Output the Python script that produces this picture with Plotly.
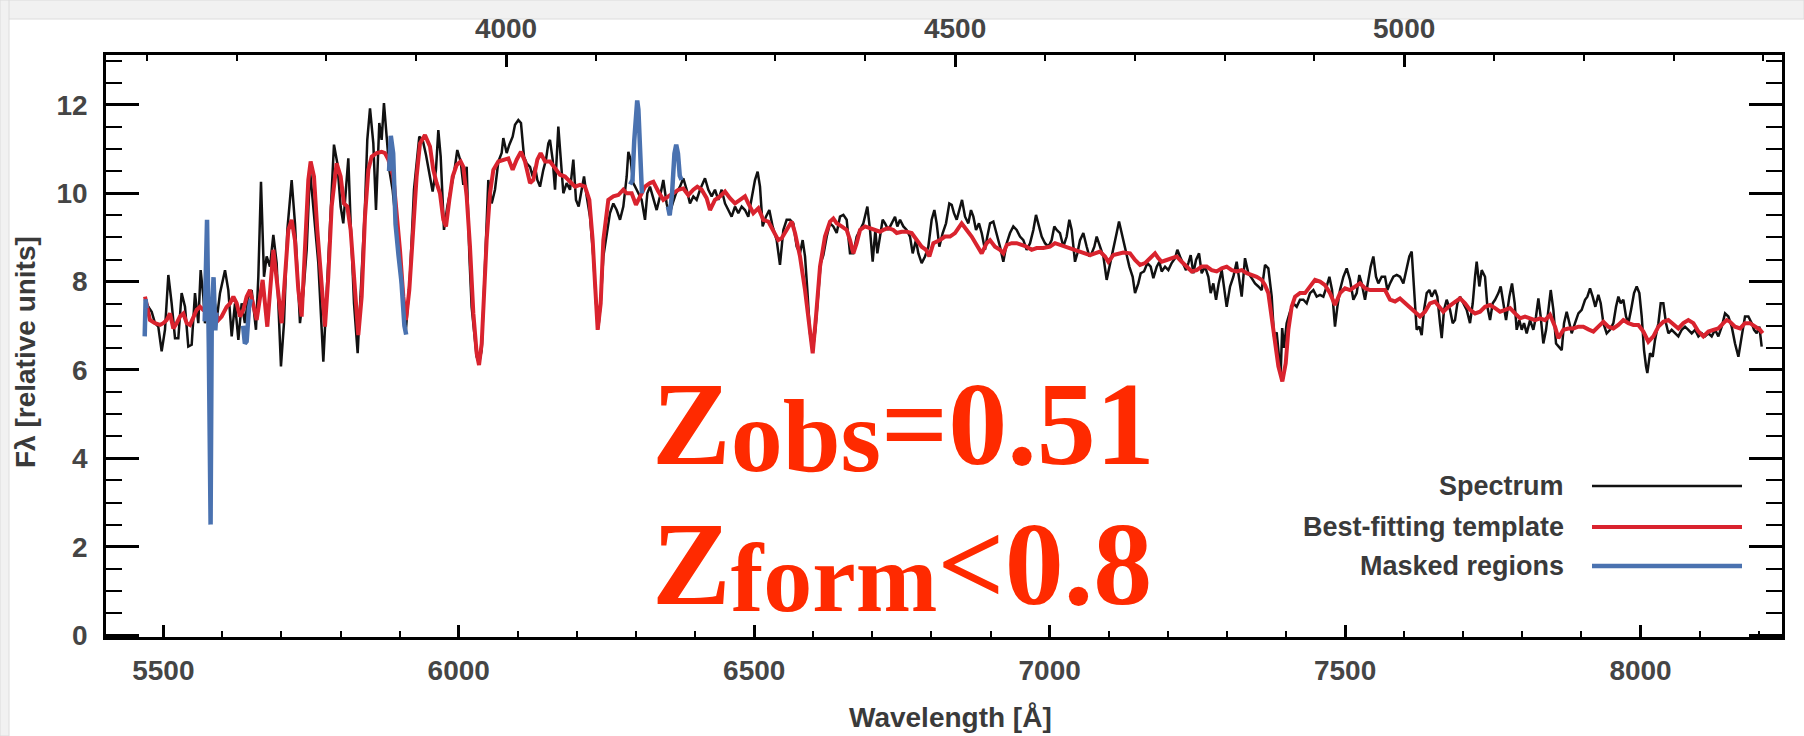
import plotly.graph_objects as go

# ---------------- data ----------------
spec_wave = [5470.5, 5474.6, 5480.3, 5485.9, 5491.5, 5497.2, 5502.8, 5508.5, 5514.1, 5519.8, 5525.4, 5531.0, 5536.7,
             5542.3, 5548.0, 5553.6, 5559.2, 5563.2, 5567.7, 5570.5, 5574.5, 5581.8, 5587.4, 5590.3, 5595.9, 5604.4,
             5610.0, 5615.7, 5621.3, 5627.0, 5632.6, 5638.0, 5644.0, 5649.5, 5656.8, 5660.8, 5665.3, 5670.4, 5674.9,
             5680.5, 5686.2, 5691.8, 5699.1, 5704.2, 5709.9, 5717.2, 5722.8, 5731.3, 5736.9, 5742.6, 5748.2, 5756.7,
             5762.3, 5770.8, 5776.4, 5782.1, 5788.8, 5794.5, 5800.1, 5804.6, 5809.1, 5813.1, 5817.0, 5822.7, 5828.9,
             5835.7, 5841.3, 5845.2, 5849.8, 5855.4, 5859.9, 5865.5, 5869.5, 5873.4, 5878.0, 5882.5, 5888.0, 5894.9,
             5901.6, 5910.1, 5917.4, 5924.2, 5933.2, 5938.9, 5944.5, 5950.2, 5955.8, 5961.4, 5965.4, 5969.4, 5975.0,
             5980.6, 5986.3, 5991.9, 5997.5, 6003.2, 6007.7, 6013.4, 6017.9, 6021.8, 6030.3, 6034.3, 6038.8, 6044.4,
             6050.0, 6055.7, 6061.3, 6067.0, 6072.6, 6075.4, 6081.1, 6085.6, 6091.2, 6095.2, 6100.8, 6105.3, 6110.4,
             6114.9, 6120.6, 6125.1, 6129.0, 6133.0, 6137.5, 6143.1, 6147.6, 6151.6, 6154.4, 6158.9, 6162.9, 6168.5,
             6172.5, 6177.0, 6182.6, 6188.3, 6193.9, 6198.4, 6202.9, 6208.0, 6212.0, 6216.5, 6222.1, 6227.7, 6232.3,
             6236.2, 6240.2, 6244.7, 6250.3, 6255.9, 6261.6, 6267.2, 6272.9, 6278.5, 6284.2, 6287.0, 6290.9, 6295.4,
             6301.1, 6309.5, 6315.2, 6319.1, 6323.6, 6329.3, 6334.9, 6340.6, 6346.2, 6351.8, 6356.4, 6362.0, 6367.6,
             6374.4, 6380.0, 6385.7, 6391.3, 6397.0, 6402.6, 6408.3, 6416.7, 6422.4, 6428.0, 6433.6, 6439.3, 6444.9,
             6450.6, 6456.2, 6461.8, 6467.5, 6473.1, 6478.8, 6484.4, 6490.0, 6495.7, 6501.3, 6505.8, 6509.8, 6514.3,
             6519.9, 6525.6, 6531.2, 6538.0, 6543.6, 6549.3, 6554.9, 6560.6, 6566.2, 6571.9, 6577.5, 6582.0, 6586.0,
             6589.9, 6594.4, 6599.0, 6603.5, 6608.0, 6612.5, 6617.0, 6622.7, 6628.3, 6633.9, 6639.6, 6645.2, 6650.9,
             6656.5, 6662.1, 6667.8, 6673.4, 6679.1, 6684.7, 6691.5, 6696.0, 6700.5, 6705.0, 6708.4, 6712.9, 6717.4,
             6721.4, 6727.0, 6732.7, 6738.3, 6742.2, 6746.8, 6752.4, 6758.0, 6763.7, 6768.2, 6773.8, 6777.8, 6783.4,
             6789.1, 6794.7, 6800.3, 6804.9, 6808.8, 6813.3, 6819.0, 6824.6, 6830.2, 6834.2, 6838.1, 6842.7, 6847.2,
             6851.7, 6856.8, 6862.4, 6866.9, 6870.9, 6875.4, 6880.4, 6885.0, 6890.6, 6894.5, 6899.1, 6904.7, 6910.3,
             6916.0, 6921.6, 6927.3, 6932.9, 6938.5, 6944.2, 6949.8, 6955.5, 6961.1, 6966.8, 6972.4, 6976.9, 6980.9,
             6986.5, 6992.1, 6997.8, 7003.4, 7007.9, 7011.9, 7017.5, 7023.2, 7028.8, 7033.3, 7037.3, 7042.9, 7046.9,
             7051.4, 7057.0, 7062.7, 7067.2, 7071.1, 7075.6, 7079.6, 7085.2, 7090.9, 7096.5, 7102.1, 7107.8, 7113.4,
             7117.4, 7121.9, 7127.5, 7134.9, 7140.5, 7144.5, 7150.1, 7154.1, 7159.7, 7165.4, 7171.0, 7175.5, 7181.2,
             7185.7, 7189.6, 7195.3, 7200.9, 7206.5, 7212.2, 7216.1, 7220.6, 7225.2, 7230.8, 7234.7, 7238.7, 7243.2,
             7247.7, 7252.8, 7257.3, 7263.0, 7268.6, 7272.5, 7277.0, 7281.6, 7286.1, 7291.2, 7295.1, 7299.6, 7305.3,
             7310.9, 7316.5, 7321.1, 7325.0, 7330.6, 7336.3, 7341.9, 7347.6, 7353.2, 7358.9, 7364.5, 7370.1, 7375.8,
             7379.7, 7384.2, 7388.7, 7391.0, 7393.5, 7396.6, 7401.1, 7406.8, 7412.4, 7418.1, 7423.7, 7429.4, 7435.0,
             7440.6, 7446.3, 7451.9, 7457.6, 7463.2, 7468.8, 7473.4, 7477.9, 7482.9, 7486.9, 7491.4, 7497.1, 7502.7,
             7508.3, 7514.0, 7519.6, 7524.1, 7528.1, 7533.7, 7539.4, 7543.3, 7547.8, 7552.3, 7556.3, 7561.9, 7567.6,
             7571.5, 7576.0, 7581.7, 7587.3, 7593.0, 7598.6, 7604.2, 7608.7, 7612.7, 7616.6, 7621.1, 7625.7, 7629.6,
             7633.6, 7638.1, 7642.6, 7646.5, 7652.2, 7656.1, 7660.6, 7663.5, 7667.4, 7671.9, 7677.6, 7682.1, 7686.0,
             7690.0, 7694.5, 7700.2, 7705.8, 7711.4, 7716.0, 7719.9, 7722.7, 7727.2, 7731.2, 7736.8, 7740.8, 7745.3,
             7749.8, 7753.8, 7759.4, 7763.3, 7767.9, 7772.4, 7778.0, 7782.5, 7787.0, 7790.4, 7794.9, 7798.9, 7802.8,
             7807.3, 7813.0, 7818.6, 7823.1, 7827.1, 7831.0, 7835.5, 7840.1, 7844.0, 7848.0, 7852.5, 7857.0, 7861.5,
             7866.6, 7870.5, 7875.0, 7879.6, 7883.5, 7889.1, 7894.8, 7900.4, 7906.1, 7910.0, 7914.5, 7919.0, 7923.5,
             7928.6, 7932.6, 7937.1, 7942.7, 7948.4, 7954.0, 7958.5, 7962.5, 7966.4, 7970.9, 7975.4, 7979.4, 7983.9,
             7989.0, 7993.5, 7998.0, 8002.0, 8005.9, 8009.3, 8011.5, 8016.1, 8020.6, 8024.5, 8030.2, 8034.1, 8038.6,
             8043.1, 8047.1, 8052.7, 8058.4, 8064.0, 8069.7, 8075.3, 8080.9, 8086.6, 8092.2, 8097.9, 8103.5, 8109.1,
             8114.8, 8120.4, 8126.1, 8131.7, 8137.4, 8143.0, 8148.6, 8154.3, 8159.9, 8165.6, 8171.2, 8176.8, 8182.5,
             8188.1, 8192.1, 8196.6, 8201.1, 8205.0]
spec_flux = [7.55, 7.43, 7.32, 7.06, 6.98, 6.42, 6.91, 8.15, 7.51, 6.72, 6.72, 7.74, 7.43,
             6.53, 6.57, 7.74, 7.06, 8.26, 7.66, 7.06, 7.30, 7.00, 7.50, 7.13, 7.74, 8.26,
             7.81, 6.76, 7.51, 6.68, 7.51, 7.06, 7.66, 7.81, 6.91, 8.11, 10.26, 8.11, 8.57,
             8.34, 9.06, 8.42, 6.08, 7.06, 9.17, 10.30, 9.32, 7.06, 7.74, 8.72, 10.53, 9.17,
             8.42, 6.19, 7.81, 9.17, 11.10, 10.68, 9.70, 9.32, 10.08, 10.79, 9.32, 7.51, 6.38,
             8.11, 9.70, 11.21, 11.92, 11.13, 9.62, 11.59, 11.21, 12.04, 11.28, 10.53, 10.08, 9.17,
             8.11, 6.83, 8.11, 10.08, 11.28, 11.21, 10.87, 10.45, 10.04, 10.53, 11.43, 10.83, 9.17,
             9.70, 10.08, 10.45, 10.98, 10.72, 10.19, 10.60, 8.60, 7.43, 6.30, 6.15, 6.45, 8.19,
             10.30, 9.77, 10.08, 10.72, 10.91, 11.25, 10.91, 11.10, 11.28, 11.55, 11.66, 11.59, 10.83,
             10.68, 10.60, 10.38, 10.60, 10.30, 10.15, 10.53, 10.76, 11.13, 11.21, 10.76, 10.08, 11.51,
             10.83, 10.00, 10.23, 10.08, 10.76, 9.85, 9.70, 10.08, 10.38, 9.93, 9.47, 8.57, 7.51,
             6.94, 7.51, 8.57, 9.10, 9.55, 9.77, 9.62, 9.40, 9.70, 10.38, 10.94, 10.76, 10.23,
             10.08, 9.85, 9.40, 10.00, 10.15, 9.85, 9.62, 9.93, 10.30, 9.77, 9.51, 9.77, 10.00,
             10.15, 10.34, 10.08, 9.77, 9.93, 9.85, 10.08, 10.34, 10.08, 9.93, 10.08, 9.85, 10.08,
             9.77, 9.62, 9.47, 9.70, 9.55, 9.70, 9.62, 9.47, 9.93, 10.30, 10.49, 10.15, 9.25,
             9.47, 9.62, 9.25, 8.94, 8.38, 9.17, 9.40, 9.40, 9.32, 8.79, 8.64, 8.94, 8.57,
             7.81, 6.83, 6.42, 6.91, 7.66, 8.42, 8.60, 9.02, 9.32, 9.25, 9.10, 9.47, 9.51,
             9.40, 8.64, 8.64, 9.02, 9.17, 9.32, 9.70, 9.17, 8.45, 9.17, 8.64, 9.02, 9.40,
             9.32, 9.17, 9.32, 9.47, 9.25, 9.40, 9.25, 9.17, 9.02, 8.64, 8.94, 8.64, 8.42,
             8.57, 8.79, 9.40, 9.62, 9.32, 8.79, 9.10, 9.32, 9.77, 9.74, 9.55, 9.40, 9.62,
             9.85, 9.47, 9.32, 9.62, 9.47, 9.17, 9.32, 9.10, 8.72, 9.02, 9.32, 9.36, 9.10,
             8.79, 8.45, 8.87, 9.10, 9.25, 9.17, 9.02, 8.94, 8.72, 8.87, 9.17, 9.51, 9.32,
             9.02, 8.87, 8.79, 8.94, 9.25, 9.17, 9.10, 8.79, 9.02, 9.40, 9.17, 8.45, 8.64,
             8.94, 9.10, 8.79, 8.57, 8.64, 8.79, 9.02, 8.79, 8.57, 8.04, 8.42, 8.79, 9.10,
             9.36, 9.10, 8.72, 8.34, 8.11, 7.74, 7.96, 8.19, 8.23, 8.42, 8.34, 8.08, 8.34,
             8.45, 8.23, 8.34, 8.26, 8.42, 8.53, 8.72, 8.57, 8.42, 8.26, 8.42, 8.60, 8.19,
             8.49, 8.64, 8.19, 8.34, 8.11, 7.74, 7.96, 7.59, 7.96, 8.26, 7.81, 7.43, 7.89,
             8.11, 8.45, 8.04, 7.66, 8.53, 8.19, 8.08, 7.96, 7.89, 7.81, 8.38, 8.30, 7.66,
             6.76, 6.85, 6.20, 5.90, 6.95, 6.50, 7.06, 7.32, 7.51, 7.43, 7.59, 7.59, 7.51,
             7.74, 7.81, 7.66, 7.70, 7.66, 7.89, 8.11, 7.81, 6.98, 7.43, 7.81, 8.11, 8.30,
             8.04, 7.59, 7.74, 8.15, 7.96, 7.59, 8.04, 8.34, 8.57, 8.11, 7.96, 8.11, 8.11,
             7.81, 7.96, 8.11, 8.15, 8.11, 7.96, 8.26, 8.57, 8.68, 7.81, 6.91, 6.98, 6.79,
             7.36, 7.74, 7.81, 7.66, 7.81, 7.66, 7.06, 6.72, 7.36, 7.59, 7.36, 7.06, 7.13,
             7.51, 7.66, 7.51, 7.36, 7.06, 7.51, 8.11, 8.45, 7.89, 8.26, 8.11, 7.43, 7.13,
             7.51, 7.59, 7.74, 7.89, 7.51, 7.13, 7.66, 7.96, 7.51, 6.91, 7.13, 6.91, 7.06,
             6.83, 7.13, 6.91, 7.21, 7.62, 7.21, 6.60, 6.91, 7.43, 7.81, 7.36, 6.60, 6.53,
             6.45, 7.06, 7.32, 7.06, 6.83, 7.06, 7.28, 7.36, 7.59, 7.66, 7.85, 7.66, 7.43,
             7.70, 7.51, 7.06, 6.83, 6.91, 7.06, 7.43, 7.66, 7.51, 7.59, 7.21, 7.06, 7.36,
             7.74, 7.89, 7.74, 7.21, 6.45, 6.08, 5.93, 6.38, 6.30, 6.68, 7.06, 7.51, 7.51,
             7.06, 6.83, 6.91, 6.83, 6.76, 6.91, 6.98, 6.91, 6.83, 6.91, 6.76, 6.83, 6.76,
             6.83, 6.76, 6.91, 6.76, 6.98, 7.28, 7.21, 6.98, 6.60, 6.30, 6.76, 7.21, 7.21,
             7.06, 6.91, 6.83, 6.98, 6.53]

tmpl_wave = [5469.0, 5477.4, 5485.9, 5494.4, 5500.0, 5505.7, 5511.3, 5517.0, 5522.6, 5528.2, 5533.9, 5539.5, 5545.1,
             5550.8, 5556.4, 5562.1, 5567.7, 5573.3, 5581.8, 5587.4, 5593.1, 5598.7, 5607.2, 5612.9, 5618.5, 5624.1,
             5629.8, 5635.4, 5641.0, 5646.7, 5652.3, 5658.0, 5668.1, 5676.0, 5686.2, 5691.8, 5700.3, 5711.6, 5717.2,
             5722.8, 5728.5, 5734.1, 5739.8, 5745.4, 5749.3, 5755.0, 5760.6, 5766.3, 5773.6, 5779.2, 5784.9, 5793.3,
             5800.1, 5805.7, 5811.4, 5817.0, 5824.4, 5830.0, 5835.7, 5841.3, 5847.0, 5852.6, 5861.0, 5869.5, 5875.1,
             5880.8, 5889.2, 5894.9, 5900.5, 5906.2, 5910.7, 5916.3, 5922.0, 5928.7, 5934.4, 5942.8, 5951.3, 5956.9,
             5962.6, 5968.2, 5973.9, 5978.4, 5984.0, 5989.7, 5996.4, 6003.2, 6007.7, 6013.4, 6019.0, 6024.7, 6030.3,
             6034.3, 6038.8, 6042.7, 6047.2, 6052.9, 6058.5, 6067.0, 6075.4, 6083.9, 6091.2, 6098.0, 6105.3, 6112.1,
             6120.6, 6126.2, 6133.0, 6138.6, 6146.0, 6154.4, 6162.9, 6171.3, 6179.8, 6188.3, 6196.7, 6205.2, 6213.6,
             6221.0, 6226.6, 6230.6, 6235.1, 6240.2, 6244.7, 6253.1, 6261.6, 6270.0, 6278.5, 6284.2, 6292.6, 6299.9,
             6306.7, 6315.2, 6323.6, 6329.3, 6337.7, 6346.2, 6354.7, 6363.1, 6371.6, 6380.0, 6388.5, 6397.0, 6403.7,
             6411.1, 6419.5, 6425.2, 6433.6, 6442.1, 6450.6, 6459.0, 6467.5, 6475.9, 6484.4, 6490.0, 6498.5, 6507.0,
             6515.4, 6523.9, 6532.3, 6540.8, 6546.5, 6554.9, 6563.4, 6569.1, 6577.5, 6586.0, 6593.3, 6599.0, 6604.6,
             6611.4, 6619.8, 6628.3, 6633.9, 6639.6, 6648.0, 6656.5, 6662.1, 6667.8, 6673.4, 6679.1, 6687.5, 6696.0,
             6704.4, 6712.9, 6718.5, 6727.0, 6735.5, 6741.1, 6749.6, 6758.0, 6766.5, 6775.0, 6783.4, 6790.8, 6796.4,
             6803.2, 6814.4, 6822.9, 6831.4, 6839.8, 6845.5, 6851.1, 6859.6, 6868.0, 6876.5, 6885.0, 6893.4, 6899.1,
             6907.5, 6916.0, 6921.6, 6927.3, 6935.7, 6944.2, 6952.6, 6961.1, 6969.6, 6978.0, 6989.3, 7000.6, 7009.1,
             7017.5, 7026.0, 7034.4, 7042.9, 7051.4, 7059.8, 7068.3, 7076.7, 7085.2, 7093.7, 7099.3, 7107.8, 7116.2,
             7124.7, 7136.0, 7144.5, 7153.0, 7161.4, 7169.9, 7178.3, 7184.0, 7189.6, 7198.1, 7206.5, 7215.0, 7223.5,
             7231.9, 7240.4, 7248.8, 7257.3, 7265.8, 7274.2, 7282.7, 7291.2, 7299.6, 7308.1, 7316.5, 7325.0, 7333.5,
             7341.9, 7350.4, 7358.9, 7364.5, 7370.1, 7375.8, 7381.4, 7387.1, 7393.8, 7399.5, 7404.0, 7409.6, 7415.3,
             7423.7, 7432.2, 7440.6, 7449.1, 7457.6, 7466.0, 7474.5, 7482.9, 7491.4, 7499.9, 7508.3, 7516.8, 7525.3,
             7533.7, 7542.2, 7550.6, 7559.1, 7567.6, 7576.0, 7584.5, 7592.9, 7601.4, 7609.9, 7618.3, 7626.8, 7635.2,
             7643.7, 7652.2, 7660.6, 7666.3, 7674.7, 7683.2, 7694.5, 7703.0, 7711.4, 7719.9, 7728.4, 7736.8, 7745.3,
             7753.8, 7762.2, 7770.7, 7779.1, 7787.6, 7796.1, 7804.5, 7813.0, 7821.4, 7829.9, 7838.4, 7846.8, 7855.3,
             7860.9, 7869.4, 7877.9, 7886.3, 7894.8, 7903.2, 7911.7, 7920.2, 7928.6, 7937.1, 7945.5, 7954.0, 7962.5,
             7970.9, 7979.4, 7987.9, 7996.3, 8004.8, 8013.2, 8021.7, 8030.2, 8038.6, 8047.1, 8055.6, 8064.0, 8072.5,
             8080.9, 8089.4, 8097.9, 8106.3, 8114.8, 8123.2, 8131.7, 8140.2, 8145.8, 8151.4, 8159.9, 8168.4, 8176.8,
             8185.3, 8193.7, 8202.2, 8206.7]
tmpl_flux = [7.66, 7.13, 7.06, 7.02, 7.06, 7.13, 7.28, 6.94, 7.06, 7.21, 7.28, 7.06, 7.02,
             7.21, 7.36, 7.43, 7.36, 7.36, 7.43, 7.32, 7.13, 7.21, 7.43, 7.51, 7.66, 7.51,
             7.21, 7.36, 7.66, 7.81, 7.51, 7.13, 8.04, 6.98, 8.72, 8.11, 7.06, 9.17, 9.40,
             8.94, 7.81, 7.21, 8.57, 10.30, 10.72, 10.38, 9.17, 8.11, 6.98, 8.11, 9.70, 10.68,
             10.38, 9.77, 9.70, 9.17, 7.66, 6.79, 7.66, 9.47, 10.53, 10.83, 10.91, 10.94, 10.91,
             10.76, 10.38, 9.62, 8.72, 7.66, 7.13, 7.81, 9.17, 10.38, 11.13, 11.32, 11.06, 10.53,
             10.23, 10.00, 9.40, 9.25, 9.85, 10.38, 10.64, 10.72, 10.60, 9.93, 8.79, 7.28, 6.38,
             6.11, 6.60, 7.81, 8.94, 10.00, 10.53, 10.72, 10.76, 10.79, 10.53, 10.76, 10.94, 10.72,
             10.23, 10.30, 10.76, 10.91, 10.72, 10.72, 10.57, 10.42, 10.38, 10.26, 10.15, 10.19, 10.15,
             9.85, 8.94, 7.96, 6.91, 7.51, 8.94, 9.85, 9.93, 9.96, 10.08, 10.00, 10.00, 9.74,
             9.93, 10.15, 10.23, 10.26, 10.04, 9.85, 9.93, 10.00, 10.08, 10.11, 9.96, 10.08, 10.15,
             10.08, 9.89, 9.62, 9.85, 9.93, 10.04, 9.89, 9.77, 9.85, 9.93, 9.77, 9.55, 9.66,
             9.40, 9.36, 9.17, 8.94, 8.98, 9.17, 9.36, 9.10, 8.57, 7.81, 6.91, 6.38, 7.21,
             8.34, 9.02, 9.36, 9.43, 9.32, 9.25, 9.17, 8.94, 8.64, 8.87, 9.17, 9.25, 9.21,
             9.17, 9.13, 9.17, 9.21, 9.17, 9.10, 9.13, 9.13, 9.10, 8.94, 8.79, 8.72, 8.57,
             8.87, 8.94, 9.02, 9.02, 9.10, 9.21, 9.32, 9.17, 9.02, 8.83, 8.64, 8.87, 8.94,
             8.79, 8.72, 8.64, 8.83, 8.87, 8.87, 8.83, 8.79, 8.72, 8.76, 8.76, 8.79, 8.87,
             8.83, 8.79, 8.76, 8.72, 8.68, 8.64, 8.60, 8.64, 8.68, 8.57, 8.45, 8.60, 8.64,
             8.66, 8.64, 8.49, 8.38, 8.42, 8.53, 8.64, 8.53, 8.45, 8.49, 8.53, 8.57, 8.45,
             8.34, 8.23, 8.26, 8.34, 8.34, 8.26, 8.23, 8.30, 8.34, 8.26, 8.23, 8.26, 8.19,
             8.15, 8.11, 8.04, 7.92, 7.74, 7.21, 6.60, 6.08, 5.74, 6.15, 6.91, 7.43, 7.66,
             7.74, 7.74, 7.89, 8.04, 8.00, 7.92, 7.74, 7.47, 7.74, 7.85, 7.81, 7.89, 7.96,
             7.85, 7.81, 7.81, 7.81, 7.81, 7.59, 7.55, 7.62, 7.51, 7.40, 7.32, 7.21, 7.32,
             7.51, 7.55, 7.40, 7.32, 7.43, 7.51, 7.62, 7.51, 7.36, 7.28, 7.32, 7.43, 7.47,
             7.40, 7.32, 7.36, 7.40, 7.28, 7.17, 7.21, 7.17, 7.13, 7.17, 7.13, 7.25, 6.98,
             6.72, 6.91, 6.94, 6.94, 6.98, 6.98, 6.92, 6.87, 6.98, 7.09, 6.98, 6.94, 7.02,
             7.13, 7.06, 7.02, 7.02, 6.87, 6.64, 6.76, 6.98, 7.09, 7.13, 7.02, 6.94, 7.06,
             7.13, 7.06, 6.87, 6.76, 6.87, 6.91, 6.94, 7.06, 7.13, 7.09, 6.98, 6.94, 7.06,
             7.06, 6.98, 6.91, 6.83]

mask_wave = [5468.5, 5470.0, 5471.5, None,
             5570, 5574, 5577, 5580, 5582, 5585, 5588, 5590, None,
             5635, 5638, 5641, 5645, 5648, None,
             5882, 5885, 5889, 5893, 5898, 5903, 5908, 5911, None,
             6290, 6294, 6297, 6300, 6302, 6304, 6307, 6310, None,
             6354, 6357, 6361, 6365, 6368, 6371, 6374, 6377]
mask_flux = [6.76, 7.6, 7.4, None,
             7.1, 9.4, 6.5, 2.5, 7.2, 8.1, 6.9, 7.3, None,
             7.0, 6.6, 6.65, 7.4, 7.6, None,
             10.5, 11.3, 10.9, 9.3, 8.6, 8.0, 7.0, 6.8, None,
             10.2, 10.3, 11.2, 12.0, 12.1, 11.9, 10.8, 10.0, None,
             9.7, 9.5, 10.0, 10.9, 11.1, 10.9, 10.4, 10.3]

bottom_ticks = [5500, 6000, 6500, 7000, 7500, 8000]
top_ticks = [4000, 4500, 5000]
y_ticks = [0, 2, 4, 6, 8, 10, 12]
x_range = [5403, 8239.4]
one_plus_z = 1.52
y_range = [-0.044, 13.13]

legend_names = ["Spectrum", "Best-fitting template", "Masked regions"]
legend_colors = ["#111111", "#d9232e", "#4a72b0"]
legend_widths = [2.5, 4, 4.5]

# ---------------- figure ----------------
W, H = 1804, 736
ML, MR, MT, MB = 106, 22, 55, 99
PW, PH = W - ML - MR, H - MT - MB

def px_x(px):
    return (px - ML) / PW

def px_y(py):
    return (H - MB - py) / PH

FONT = "Liberation Sans, Arial, Helvetica, sans-serif"
tick_font = dict(family=FONT, size=28, color="#454545", weight="bold")

fig = go.Figure()
fig.add_trace(go.Scatter(x=spec_wave, y=spec_flux, mode="lines",
                         line=dict(color=legend_colors[0], width=legend_widths[0]),
                         hoverinfo="skip", showlegend=False))
fig.add_trace(go.Scatter(x=tmpl_wave, y=tmpl_flux, mode="lines",
                         line=dict(color=legend_colors[1], width=legend_widths[1]),
                         hoverinfo="skip", showlegend=False))
fig.add_trace(go.Scatter(x=mask_wave, y=mask_flux, mode="lines", connectgaps=False,
                         line=dict(color=legend_colors[2], width=legend_widths[2]),
                         hoverinfo="skip", showlegend=False))
# invisible trace to activate the top (rest-frame) axis
fig.add_trace(go.Scatter(x=[x_range[0] / one_plus_z], y=[None], xaxis="x2", yaxis="y",
                         mode="lines", showlegend=False, hoverinfo="skip"))

axis_common = dict(showline=True, linecolor="black", linewidth=2.5, ticks="inside",
                   tickcolor="black", tickwidth=2.5, showgrid=False, zeroline=False,
                   tickfont=tick_font, automargin=False)

fig.update_layout(
    width=W, height=H,
    margin=dict(l=ML, r=MR, t=MT, b=MB, pad=0, autoexpand=False),
    paper_bgcolor="white", plot_bgcolor="white",
    showlegend=False,
    xaxis=dict(range=x_range, tickvals=bottom_ticks, ticklen=12,
               minor=dict(dtick=100, tick0=5500, ticklen=6, ticks="inside",
                          tickcolor="black", tickwidth=2),
               ticklabelstandoff=7, **axis_common),
    xaxis2=dict(range=[x_range[0] / one_plus_z, x_range[1] / one_plus_z], overlaying="x",
                side="top", anchor="y", tickvals=top_ticks, ticklen=12,
                minor=dict(dtick=100, tick0=4000, ticklen=6, ticks="inside",
                           tickcolor="black", tickwidth=2),
                ticklabelstandoff=3, **axis_common),
    yaxis=dict(range=y_range, tickvals=y_ticks, ticklen=33, mirror="ticks",
               minor=dict(dtick=0.5, tick0=0, ticklen=16, ticks="inside",
                          tickcolor="black", tickwidth=2),
               ticklabelstandoff=10, **axis_common),
)

annots = []
# axis titles
annots.append(dict(text="Wavelength [Å]", xref="paper", yref="paper", x=0.5, y=px_y(717),
                   xanchor="center", yanchor="middle", showarrow=False,
                   xshift=6, font=dict(family=FONT, size=28, color="#3a3a3a", weight="bold")))
annots.append(dict(text="Fλ [relative units]", xref="paper", yref="paper", x=px_x(25), y=px_y(352),
                   xanchor="center", yanchor="middle", textangle=-90, showarrow=False,
                   font=dict(family=FONT, size=28, color="#3a3a3a", weight="bold")))
# legend
row_y = [486, 527, 566]
for name, col, lw, ry in zip(legend_names, legend_colors, legend_widths, row_y):
    annots.append(dict(text=name, xref="paper", yref="paper", x=px_x(1566), y=px_y(ry),
                       xanchor="right", yanchor="middle", showarrow=False,
                       font=dict(family=FONT, size=27, color="#3a3a3a", weight="bold")))
# big red labels
RED = "#ff2a00"
SERIF = "Liberation Serif, Times New Roman, serif"
SUB = 'font-size:104px;baseline-shift:-7px'
SUB2 = 'font-size:98px;baseline-shift:-7px'
annots.append(dict(text='Z<span style="%s">obs</span>=0.51' % SUB, xref="paper", yref="paper",
                   x=px_x(650), y=px_y(426), xanchor="left", yanchor="middle", showarrow=False,
                   font=dict(family=SERIF, size=118, color=RED, weight="bold")))
annots.append(dict(text='Z<span style="%s">form</span>&lt;0.8' % SUB2, xref="paper", yref="paper",
                   x=px_x(650), y=px_y(565), xanchor="left", yanchor="middle", showarrow=False,
                   font=dict(family=SERIF, size=118, color=RED, weight="bold")))
fig.update_layout(annotations=annots)

shapes = []
for col, lw, ry in zip(legend_colors, legend_widths, row_y):
    shapes.append(dict(type="line", xref="paper", yref="paper", x0=px_x(1592), x1=px_x(1742),
                       y0=px_y(ry), y1=px_y(ry), line=dict(color=col, width=lw)))
# light grey window frame at top / left (screenshot decoration)
shapes.append(dict(type="rect", xref="paper", yref="paper", x0=px_x(0), x1=px_x(W),
                   y0=px_y(0), y1=px_y(19), fillcolor="#f1f1f1", line=dict(color="#dcdcdc", width=1),
                   layer="below"))
shapes.append(dict(type="rect", xref="paper", yref="paper", x0=px_x(0), x1=px_x(9),
                   y0=px_y(H), y1=px_y(0), fillcolor="#f1f1f1", line=dict(color="#dcdcdc", width=1),
                   layer="below"))
fig.update_layout(shapes=shapes)

fig.write_html("out.html", include_plotlyjs=True, config={"displayModeBar": False},
               post_script="document.body.style.margin='0';document.body.style.overflow='hidden';")
